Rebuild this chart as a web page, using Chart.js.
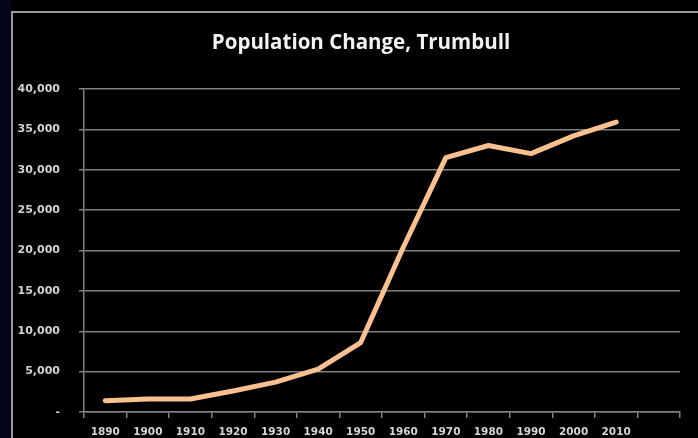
<!DOCTYPE html>
<html>
<head>
<meta charset="utf-8">
<title>Population Change, Trumbull</title>
<script src="https://cdn.jsdelivr.net/npm/chart.js@4"></script>
<style>
  html, body { margin: 0; padding: 0; background: #000; overflow: hidden; }
  body { width: 698px; height: 438px; position: relative; }
  #strip { position: absolute; left: 0; top: 0; width: 11px; height: 438px; background: #04041a; }
  #frame { position: absolute; left: 11px; top: 11px; width: 720px; height: 460px;
           border-left: 2px solid #9a9a9a; border-top: 2px solid #9a9a9a; }
  #wrap { position: absolute; left: 12px; top: 12px; width: 698px; height: 426px; }
</style>
</head>
<body>
<div id="strip"></div>
<div id="frame"></div>
<div id="wrap"><canvas id="PopChart"></canvas></div>
<script>
// Trumbull population by census year
const years = ['1890', '1900', '1910', '1920', '1930', '1940', '1950',
  '1960', '1970', '1980', '1990', '2000', '2010', ''];
const population = [1400, 1600, 1600, 2600, 3700, 5300, 8600,
  20400, 31500, 33000, 32000, 34200, 35900];
const yTicks = [0, 5000, 10000, 15000, 20000, 25000, 30000, 35000, 40000];

const gridGrey = '#808080';
const labelGrey = '#d4d4d4';

const dataPop = {
  labels: years,
  datasets: [{
    label: 'Population',
    borderColor: '#fac090',
    backgroundColor: '#fac090',
    borderWidth: 5,
    borderCapStyle: 'round',
    borderJoinStyle: 'round',
    pointRadius: 0,
    tension: 0,
    data: population
  }]
};

// the title sits centred over the whole frame, not over the plot
const shiftTitle = {
  id: 'shiftTitle',
  afterLayout(chart) {
    if (chart.titleBlock) {
      chart.titleBlock.left = 30;
    }
  }
};

const configPop = {
  type: 'line',
  data: dataPop,
  plugins: [shiftTitle],
  options: {
    responsive: true,
    maintainAspectRatio: false,
    animation: false,
    layout: { padding: { left: 0, right: 30, top: 0, bottom: 0 } },
    plugins: {
      legend: { display: false },
      tooltip: { enabled: false },
      title: {
        display: true,
        text: 'Population Change, Trumbull',
        color: '#f2f2f2',
        font: { family: 'Open Sans', size: 20.5, weight: 'bold' },
        padding: { top: 19, bottom: 33.4 }
      }
    },
    scales: {
      x: {
        offset: true,
        grid: {
          offset: true,
          drawOnChartArea: false,
          drawTicks: true,
          tickLength: 6,
          color: gridGrey,
          lineWidth: 1.5
        },
        border: { display: true, color: gridGrey, width: 1.5 },
        ticks: {
          color: labelGrey,
          padding: 8,
          maxRotation: 0,
          autoSkip: false,
          font: { family: 'DejaVu Sans', size: 10.5, weight: 'bold' }
        },
        afterFit: (scale) => { scale.height = 26; }
      },
      y: {
        min: 0,
        max: 40000,
        afterBuildTicks: (scale) => { scale.ticks = yTicks.map(v => ({ value: v })); },
        grid: {
          color: gridGrey,
          lineWidth: 1.5,
          tickLength: 5
        },
        border: { display: true, color: gridGrey, width: 1.5 },
        ticks: {
          color: labelGrey,
          padding: 19,
          font: { family: 'DejaVu Sans', size: 11, weight: 'bold' },
          callback: (v) => v === 0 ? '-' : v.toLocaleString('en-US')
        },
        afterFit: (scale) => { scale.width = 72; }
      }
    }
  }
};

const Pop_Chart = new Chart(
  document.getElementById('PopChart'),
  configPop
);
</script>
</body>
</html>
